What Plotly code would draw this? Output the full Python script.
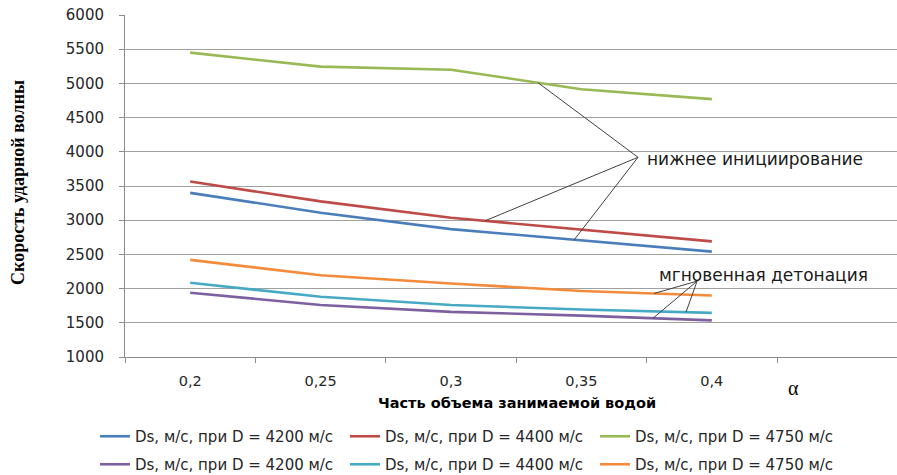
import numpy as np
import plotly.graph_objects as go

categories = ["0,2", "0,25", "0,3", "0,35", "0,4"]

# нижнее инициирование
blue_4200 = [3400, 3110, 2870, 2700, 2540]
red_4400 = [3565, 3275, 3035, 2865, 2690]
green_4750 = [5450, 5245, 5200, 4915, 4770]
# мгновенная детонация
purple_4200 = [1940, 1760, 1660, 1605, 1535]
teal_4400 = [2085, 1880, 1760, 1695, 1645]
orange_4750 = [2420, 2195, 2075, 1965, 1900]

series_names = ["Ds, м/с, при D = 4200 м/с", "Ds, м/с, при D = 4400 м/с", "Ds, м/с, при D = 4750 м/с"]

y_title = "Скорость ударной волны"
x_title = "Часть объема занимаемой водой"
label_top = "нижнее инициирование"
label_bottom = "мгновенная детонация"

FONT = "DejaVu Sans"
fig = go.Figure()

row1 = [(blue_4200, "#4A7EBB"), (red_4400, "#BE4B48"), (green_4750, "#98B954")]
row2 = [(purple_4200, "#7D60A0"), (teal_4400, "#46AAC5"), (orange_4750, "#F38B3A")]
for (vals, col), name in zip(row1, series_names):
    fig.add_trace(go.Scatter(x=categories, y=vals, mode="lines", name=name,
                             line=dict(color=col, width=2.6), legend="legend"))
for (vals, col), name in zip(row2, series_names):
    fig.add_trace(go.Scatter(x=categories, y=vals, mode="lines", name=name,
                             line=dict(color=col, width=2.6), legend="legend2"))

idx = np.arange(len(categories))

def on_line(vals, pos):
    return float(np.interp(pos, idx, vals))

# leader lines (hub positions in data units, ends on the series)
hub1 = (3.434, 3920)
for vals, pos in [(green_4750, 2.667), (red_4400, 2.261), (blue_4200, 2.943)]:
    fig.add_shape(type="line", xref="x", yref="y", x0=hub1[0], y0=hub1[1],
                  x1=pos, y1=on_line(vals, pos), line=dict(color="#404040", width=1))
hub2 = (3.887, 2109)
for vals, pos in [(orange_4750, 3.557), (teal_4400, 3.802), (purple_4200, 3.549)]:
    fig.add_shape(type="line", xref="x", yref="y", x0=hub2[0], y0=hub2[1],
                  x1=pos, y1=on_line(vals, pos), line=dict(color="#404040", width=1))

fig.add_annotation(x=3.49, y=3890, xref="x", yref="y", text=label_top, showarrow=False,
                   xanchor="left", yanchor="middle", font=dict(family=FONT, size=17, color="#1a1a1a"))
fig.add_annotation(x=3.58, y=2200, xref="x", yref="y", text=label_bottom, showarrow=False,
                   xanchor="left", yanchor="middle", font=dict(family=FONT, size=17, color="#1a1a1a"))

W, H = 897, 475
L, T, B = 125, 15, 118
pw = W - L
ph = H - T - B

def px(xp):
    return (xp - L) / pw

def py(yp):
    return (H - B - yp) / ph

fig.add_annotation(x=px(18), y=py(183), xref="paper", yref="paper", text="<b>" + y_title + "</b>",
                   textangle=-90, showarrow=False, xanchor="center", yanchor="middle",
                   font=dict(family="Liberation Serif", size=18, color="black"))
fig.add_annotation(x=px(517), y=py(403), xref="paper", yref="paper", text="<b>" + x_title + "</b>",
                   showarrow=False, xanchor="center", yanchor="middle",
                   font=dict(family=FONT, size=14.5, color="black"))
fig.add_annotation(x=px(793), y=py(388), xref="paper", yref="paper", text="α",
                   showarrow=False, xanchor="center", yanchor="middle",
                   font=dict(family="Liberation Serif", size=20, color="black"))

fig.update_layout(
    width=W, height=H,
    margin=dict(l=L, r=0, t=T, b=B, autoexpand=False),
    plot_bgcolor="white", paper_bgcolor="white",
    font=dict(family=FONT, size=14, color="#262626"),
    xaxis=dict(type="category", range=[-0.5, 5.42], tickson="boundaries", showgrid=False,
               showline=True, linecolor="#8C8C8C", linewidth=1, ticks="outside", ticklen=5,
               tickcolor="#8C8C8C", ticklabelstandoff=11, tickfont=dict(size=14.5)),
    yaxis=dict(range=[1000, 6000], dtick=500, showgrid=True, gridcolor="#A0A0A0", gridwidth=1,
               showline=True, linecolor="#8C8C8C", linewidth=1, ticks="outside", ticklen=5,
               tickcolor="#8C8C8C", ticklabelstandoff=12, zeroline=False, tickfont=dict(size=15)),
    showlegend=True,
    legend=dict(orientation="h", x=px(95), y=py(453), xanchor="left", yanchor="bottom",
                entrywidth=205, font=dict(size=15, color="#262626"), bgcolor="rgba(0,0,0,0)"),
    legend2=dict(orientation="h", x=px(95), y=py(481), xanchor="left", yanchor="bottom",
                 entrywidth=205, font=dict(size=15, color="#262626"), bgcolor="rgba(0,0,0,0)"),
)

fig.write_html("out.html")
